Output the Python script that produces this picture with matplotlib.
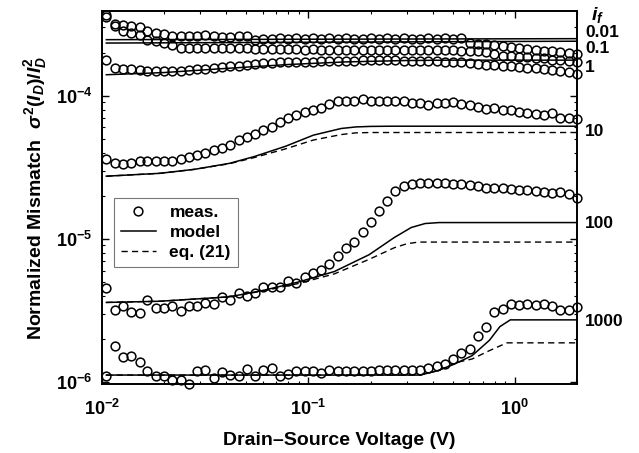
import matplotlib
matplotlib.use("Agg")
import matplotlib.pyplot as plt
import matplotlib.transforms as mtransforms
from matplotlib.ticker import LogLocator, NullFormatter

plt.rcParams['font.family'] = ['Liberation Sans', 'DejaVu Sans']
plt.rcParams['font.weight'] = 'bold'
plt.rcParams['mathtext.fontset'] = 'custom'
plt.rcParams['mathtext.rm'] = 'Liberation Sans:bold'
plt.rcParams['mathtext.it'] = 'Liberation Sans:bold:italic'
plt.rcParams['mathtext.bf'] = 'Liberation Sans:bold'
plt.rcParams['mathtext.sf'] = 'Liberation Sans:bold'

# ---------------- data ----------------
vds = [0.0105, 0.0115, 0.0126, 0.0138, 0.0152, 0.0166, 0.0183, 0.0200, 0.0219, 0.0241,
       0.0264, 0.0289, 0.0317, 0.0348, 0.0381, 0.0418, 0.0459, 0.0503, 0.0551, 0.0605,
       0.0663, 0.0727, 0.0797, 0.0874, 0.0958, 0.105, 0.115, 0.126, 0.139, 0.152,
       0.166, 0.183, 0.200, 0.219, 0.241, 0.264, 0.289, 0.317, 0.348, 0.381,
       0.418, 0.459, 0.503, 0.551, 0.605, 0.663, 0.727, 0.797, 0.874, 0.958,
       1.05, 1.15, 1.26, 1.38, 1.52, 1.66, 1.83, 2.00]

meas_001 = [3.67e-4, 3.18e-4, 3.12e-4, 3.07e-4, 3.04e-4, 2.81e-4, 2.76e-4, 2.70e-4, 2.62e-4, 2.59e-4,
            2.59e-4, 2.59e-4, 2.66e-4, 2.59e-4, 2.56e-4, 2.56e-4, 2.59e-4, 2.62e-4, 2.46e-4, 2.50e-4,
            2.50e-4, 2.52e-4, 2.50e-4, 2.51e-4, 2.49e-4, 2.52e-4, 2.50e-4, 2.51e-4, 2.50e-4, 2.52e-4,
            2.50e-4, 2.49e-4, 2.51e-4, 2.50e-4, 2.52e-4, 2.50e-4, 2.51e-4, 2.50e-4, 2.49e-4, 2.51e-4,
            2.50e-4, 2.52e-4, 2.50e-4, 2.51e-4, 2.33e-4, 2.30e-4, 2.29e-4, 2.24e-4, 2.21e-4, 2.17e-4,
            2.15e-4, 2.13e-4, 2.09e-4, 2.06e-4, 2.04e-4, 2.01e-4, 1.98e-4, 1.96e-4]

meas_01 = [3.55e-4, 3.07e-4, 2.81e-4, 2.74e-4, 2.66e-4, 2.46e-4, 2.39e-4, 2.33e-4, 2.27e-4, 2.15e-4,
           2.15e-4, 2.15e-4, 2.16e-4, 2.15e-4, 2.14e-4, 2.15e-4, 2.16e-4, 2.15e-4, 2.13e-4, 2.12e-4,
           2.13e-4, 2.11e-4, 2.12e-4, 2.11e-4, 2.10e-4, 2.11e-4, 2.09e-4, 2.10e-4, 2.09e-4, 2.09e-4,
           2.08e-4, 2.09e-4, 2.10e-4, 2.09e-4, 2.09e-4, 2.08e-4, 2.09e-4, 2.09e-4, 2.10e-4, 2.09e-4,
           2.08e-4, 2.09e-4, 2.07e-4, 2.06e-4, 2.06e-4, 2.06e-4, 2.03e-4, 1.96e-4, 1.88e-4, 1.88e-4,
           1.87e-4, 1.86e-4, 1.83e-4, 1.83e-4, 1.78e-4, 1.78e-4, 1.75e-4, 1.73e-4]

meas_1 = [1.78e-4, 1.56e-4, 1.535e-4, 1.535e-4, 1.52e-4, 1.48e-4, 1.48e-4, 1.48e-4, 1.49e-4, 1.49e-4,
          1.52e-4, 1.535e-4, 1.535e-4, 1.56e-4, 1.585e-4, 1.60e-4, 1.62e-4, 1.64e-4, 1.67e-4, 1.685e-4,
          1.70e-4, 1.71e-4, 1.72e-4, 1.73e-4, 1.73e-4, 1.73e-4, 1.74e-4, 1.745e-4, 1.75e-4, 1.75e-4,
          1.75e-4, 1.76e-4, 1.76e-4, 1.76e-4, 1.76e-4, 1.76e-4, 1.75e-4, 1.75e-4, 1.75e-4, 1.75e-4,
          1.745e-4, 1.73e-4, 1.73e-4, 1.71e-4, 1.69e-4, 1.67e-4, 1.65e-4, 1.64e-4, 1.62e-4, 1.60e-4,
          1.585e-4, 1.57e-4, 1.55e-4, 1.53e-4, 1.505e-4, 1.48e-4, 1.46e-4, 1.42e-4]

meas_10 = [3.62e-5, 3.37e-5, 3.34e-5, 3.37e-5, 3.47e-5, 3.47e-5, 3.47e-5, 3.47e-5, 3.52e-5, 3.60e-5,
           3.72e-5, 3.86e-5, 3.97e-5, 4.15e-5, 4.31e-5, 4.56e-5, 4.88e-5, 5.16e-5, 5.44e-5, 5.75e-5,
           6.07e-5, 6.52e-5, 7.03e-5, 7.34e-5, 7.75e-5, 7.90e-5, 8.20e-5, 8.74e-5, 9.13e-5, 9.13e-5,
           9.13e-5, 9.53e-5, 9.23e-5, 9.13e-5, 9.23e-5, 9.23e-5, 9.23e-5, 8.88e-5, 8.88e-5, 8.55e-5,
           8.88e-5, 8.88e-5, 9.02e-5, 8.74e-5, 8.55e-5, 8.27e-5, 8.09e-5, 8.18e-5, 7.95e-5, 7.95e-5,
           7.75e-5, 7.54e-5, 7.42e-5, 7.34e-5, 7.54e-5, 7.03e-5, 6.96e-5, 6.88e-5]

meas_100 = [4.55e-6, 3.20e-6, 3.42e-6, 3.11e-6, 3.03e-6, 3.77e-6, 3.29e-6, 3.29e-6, 3.38e-6, 3.16e-6,
            3.38e-6, 3.42e-6, 3.57e-6, 3.53e-6, 3.94e-6, 3.73e-6, 4.16e-6, 3.97e-6, 4.20e-6, 4.63e-6,
            4.63e-6, 4.63e-6, 5.08e-6, 4.90e-6, 5.45e-6, 5.75e-6, 6.08e-6, 6.67e-6, 7.55e-6, 8.59e-6,
            9.55e-6, 1.12e-5, 1.32e-5, 1.57e-5, 1.85e-5, 2.16e-5, 2.33e-5, 2.41e-5, 2.44e-5, 2.46e-5,
            2.44e-5, 2.44e-5, 2.41e-5, 2.41e-5, 2.37e-5, 2.34e-5, 2.28e-5, 2.28e-5, 2.28e-5, 2.24e-5,
            2.21e-5, 2.18e-5, 2.16e-5, 2.13e-5, 2.09e-5, 2.13e-5, 2.05e-5, 1.93e-5]

meas_1000 = [1.11e-6, 1.78e-6, 1.49e-6, 1.51e-6, 1.38e-6, 1.19e-6, 1.11e-6, 1.11e-6, 1.03e-6, 1.03e-6,
             0.97e-6, 1.20e-6, 1.21e-6, 1.07e-6, 1.17e-6, 1.12e-6, 1.11e-6, 1.23e-6, 1.10e-6, 1.21e-6,
             1.25e-6, 1.11e-6, 1.14e-6, 1.20e-6, 1.19e-6, 1.19e-6, 1.15e-6, 1.21e-6, 1.20e-6, 1.20e-6,
             1.20e-6, 1.20e-6, 1.20e-6, 1.21e-6, 1.21e-6, 1.21e-6, 1.22e-6, 1.21e-6, 1.21e-6, 1.26e-6,
             1.29e-6, 1.34e-6, 1.44e-6, 1.59e-6, 1.70e-6, 2.11e-6, 2.44e-6, 3.10e-6, 3.22e-6, 3.52e-6,
             3.47e-6, 3.52e-6, 3.47e-6, 3.52e-6, 3.38e-6, 3.17e-6, 3.17e-6, 3.35e-6]

# model curves (solid) and eq. (21) curves (dashed)
model_x_001 = [0.0105, 2.0]
model_y_001 = [2.46e-4, 2.50e-4]
model_x_01 = [0.0105, 2.0]
model_y_01 = [2.33e-4, 2.40e-4]
model_x_1 = [0.0105, 0.02, 0.04, 0.08, 0.15, 0.3, 0.5, 2.0]
model_y_1 = [1.40e-4, 1.45e-4, 1.55e-4, 1.65e-4, 1.72e-4, 1.76e-4, 1.77e-4, 1.77e-4]

model_x_10 = [0.0105, 0.0191, 0.0281, 0.0415, 0.0548, 0.0774, 0.1057, 0.1442, 0.17, 0.20, 0.25, 2.0]
model_y_10 = [2.74e-5, 2.87e-5, 3.06e-5, 3.37e-5, 3.76e-5, 4.43e-5, 5.30e-5, 5.90e-5, 6.05e-5, 6.10e-5, 6.12e-5, 6.12e-5]
eq21_x_10 = [0.0105, 0.0191, 0.0281, 0.0415, 0.0548, 0.0774, 0.1057, 0.1442, 0.17, 0.20, 2.0]
eq21_y_10 = [2.74e-5, 2.87e-5, 3.06e-5, 3.35e-5, 3.70e-5, 4.25e-5, 4.90e-5, 5.35e-5, 5.50e-5, 5.53e-5, 5.53e-5]

model_x_100 = [0.0105, 0.0191, 0.0415, 0.0613, 0.0905, 0.1337, 0.197, 0.260, 0.3146, 0.3674, 0.43, 2.0]
model_y_100 = [3.60e-6, 3.67e-6, 3.94e-6, 4.39e-6, 5.02e-6, 5.92e-6, 7.76e-6, 1.02e-5, 1.20e-5, 1.28e-5, 1.30e-5, 1.30e-5]
eq21_x_100 = [0.0105, 0.0191, 0.0415, 0.0613, 0.0905, 0.1337, 0.197, 0.260, 0.30, 0.341, 2.0]
eq21_y_100 = [3.60e-6, 3.67e-6, 3.94e-6, 4.35e-6, 4.90e-6, 5.70e-6, 7.20e-6, 8.66e-6, 9.25e-6, 9.50e-6, 9.50e-6]

model_x_1000 = [0.0105, 0.3475, 0.4217, 0.5117, 0.621, 0.7536, 0.8465, 0.951, 2.0]
model_y_1000 = [1.12e-6, 1.12e-6, 1.20e-6, 1.34e-6, 1.53e-6, 1.96e-6, 2.44e-6, 2.72e-6, 2.72e-6]
eq21_x_1000 = [0.0105, 0.3475, 0.4217, 0.532, 0.621, 0.754, 0.915, 2.0]
eq21_y_1000 = [1.12e-6, 1.12e-6, 1.20e-6, 1.38e-6, 1.45e-6, 1.66e-6, 1.88e-6, 1.88e-6]

if_labels = ['0.01', '0.1', '1', '10', '100', '1000']
if_label_y = [2.78e-4, 2.14e-4, 1.57e-4, 5.6e-5, 1.28e-5, 2.65e-6]

# ---------------- figure ----------------
fig = plt.figure(figsize=(6.39, 4.53), dpi=100)
ax = fig.add_axes([0.1596, 0.1523, 0.7433, 0.8234])
ax.set_xscale('log')
ax.set_yscale('log')

meas_all = [meas_001, meas_01, meas_1, meas_10, meas_100, meas_1000]
for i, m in enumerate(meas_all):
    ax.plot(vds, m, 'o', mfc='none', mec='k', ms=6.3, mew=1.1, clip_on=False,
            label='meas.' if i == 0 else None, zorder=3)

models = [(model_x_001, model_y_001), (model_x_01, model_y_01), (model_x_1, model_y_1),
          (model_x_10, model_y_10), (model_x_100, model_y_100), (model_x_1000, model_y_1000)]
for i, (mx, my) in enumerate(models):
    ax.plot(mx, my, '-', color='k', lw=1.1, label='model' if i == 0 else None, zorder=2)

eqs = [(eq21_x_10, eq21_y_10), (eq21_x_100, eq21_y_100), (eq21_x_1000, eq21_y_1000)]
for i, (ex, ey) in enumerate(eqs):
    ax.plot(ex, ey, '--', color='k', lw=1.0, dashes=(4.5, 3),
            label='eq. (21)' if i == 0 else None, zorder=2)

ax.set_xlim(0.01, 2.0)
ax.set_ylim(9.7e-7, 3.9e-4)

ax.xaxis.set_major_locator(LogLocator(base=10, numticks=10))
ax.yaxis.set_major_locator(LogLocator(base=10, numticks=10))
ax.xaxis.set_minor_locator(LogLocator(base=10, subs=range(2, 10), numticks=20))
ax.yaxis.set_minor_locator(LogLocator(base=10, subs=range(2, 10), numticks=20))
ax.xaxis.set_minor_formatter(NullFormatter())
ax.yaxis.set_minor_formatter(NullFormatter())

ax.tick_params(which='both', direction='in', top=True, right=True, labelsize=13)
ax.tick_params(which='major', length=5, width=1.0)
ax.tick_params(axis='y', which='major', pad=7)
ax.tick_params(axis='x', which='major', pad=11)
ax.tick_params(which='minor', length=2.5, width=0.8)
for s in ax.spines.values():
    s.set_linewidth(1.4)

ax.set_xlabel('Drain\u2013Source Voltage (V)', fontsize=14, fontweight='bold', labelpad=9)
ax.set_ylabel('Normalized Mismatch  ' + r'$\sigma^2(I_D)/I_D^2$', fontsize=14,
              fontweight='bold', labelpad=5)

trans = mtransforms.blended_transform_factory(ax.transAxes, ax.transData)
for lab, yv in zip(if_labels, if_label_y):
    ax.text(1.017, yv, lab, transform=trans, ha='left', va='center',
            fontsize=12.5, fontweight='bold', clip_on=False)
ax.text(1.03, 0.99, r'$i_f$', transform=ax.transAxes, ha='left', va='center',
        fontsize=14, clip_on=False)

leg = ax.legend(loc='upper left', bbox_to_anchor=(0.025, 0.50), borderaxespad=0,
                fontsize=12.5, frameon=True, fancybox=False, handlelength=2.0,
                labelspacing=0.3, handletextpad=0.8, borderpad=0.4)
leg.get_frame().set_edgecolor('#555555')
leg.get_frame().set_linewidth(0.8)
for t in leg.get_texts():
    t.set_fontweight('bold')

fig.savefig('out.png', dpi=100)
